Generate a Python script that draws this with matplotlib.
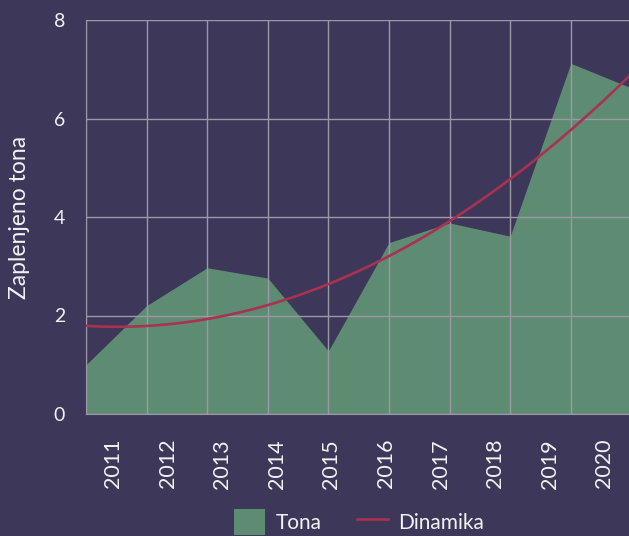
import numpy as np
import matplotlib
matplotlib.use("Agg")
import matplotlib.pyplot as plt
from matplotlib.patches import Patch
from matplotlib.lines import Line2D

years = ["2011", "2012", "2013", "2014", "2015", "2016", "2017", "2018", "2019", "2020"]
tons = [1.0, 2.2, 2.97, 2.76, 1.28, 3.48, 3.88, 3.61, 7.12, 6.62]

BG = "#3d375a"
GREEN = "#5e8c73"
RED = "#a83250"
GRID = "#9c98a6"
TEXT = "#f2f2f2"

plt.rcParams["font.family"] = ["Lato", "DejaVu Sans"]

x = np.arange(len(years))
# quadratic trend ("Dinamika") fitted to the yearly values
coef = np.polyfit(x, tons, 2)
xs = np.linspace(0, len(years) - 1, 200)
trend = np.polyval(coef, xs)

fig = plt.figure(figsize=(6.29, 5.36), dpi=100, facecolor=BG)
ax = fig.add_axes([86 / 629, 122 / 536, 545.4 / 629, 394 / 536])
ax.set_facecolor(BG)

ax.fill_between(x, tons, 0, color=GREEN, linewidth=0, zorder=1)
ax.plot(xs, trend, color=RED, linewidth=1.9, zorder=3)

ax.set_xlim(0, len(years) - 1)
ax.set_ylim(0, 8)

ax.set_xticks(x)
ax.set_xticklabels([])
ax.set_xticks((x + 0.5) * (len(years) - 1) / len(years), minor=True)
ax.set_xticklabels(years, minor=True, rotation=90, fontsize=15.5)
ax.tick_params(axis="x", which="both", length=0, pad=18, labelcolor=TEXT)

ax.set_yticks([0, 2, 4, 6, 8])
ax.tick_params(axis="y", length=0, pad=15, labelsize=14, labelcolor=TEXT)

ax.grid(True, which="major", color=GRID, linewidth=1.0)
ax.set_axisbelow(False)
for side in ["top", "right"]:
    ax.spines[side].set_visible(False)
ax.spines["left"].set_color("#8a8796")
ax.spines["bottom"].set_color(GRID)

ax.set_ylabel("Zaplenjeno tona", fontsize=16.5, color=TEXT, labelpad=17)

handles = [Patch(facecolor=GREEN, edgecolor="none", label="Tona"),
           Line2D([0], [0], color=RED, linewidth=1.9, label="Dinamika")]
leg = fig.legend(handles=handles, loc="center", bbox_to_anchor=(359 / 629, 14 / 536),
                 ncol=2, frameon=False, fontsize=15, handlelength=1.5,
                 handleheight=1.5, handletextpad=0.5, columnspacing=1.7,
                 borderpad=0)
for t in leg.get_texts():
    t.set_color(TEXT)

fig.savefig("out.png", dpi=100, facecolor=BG)
